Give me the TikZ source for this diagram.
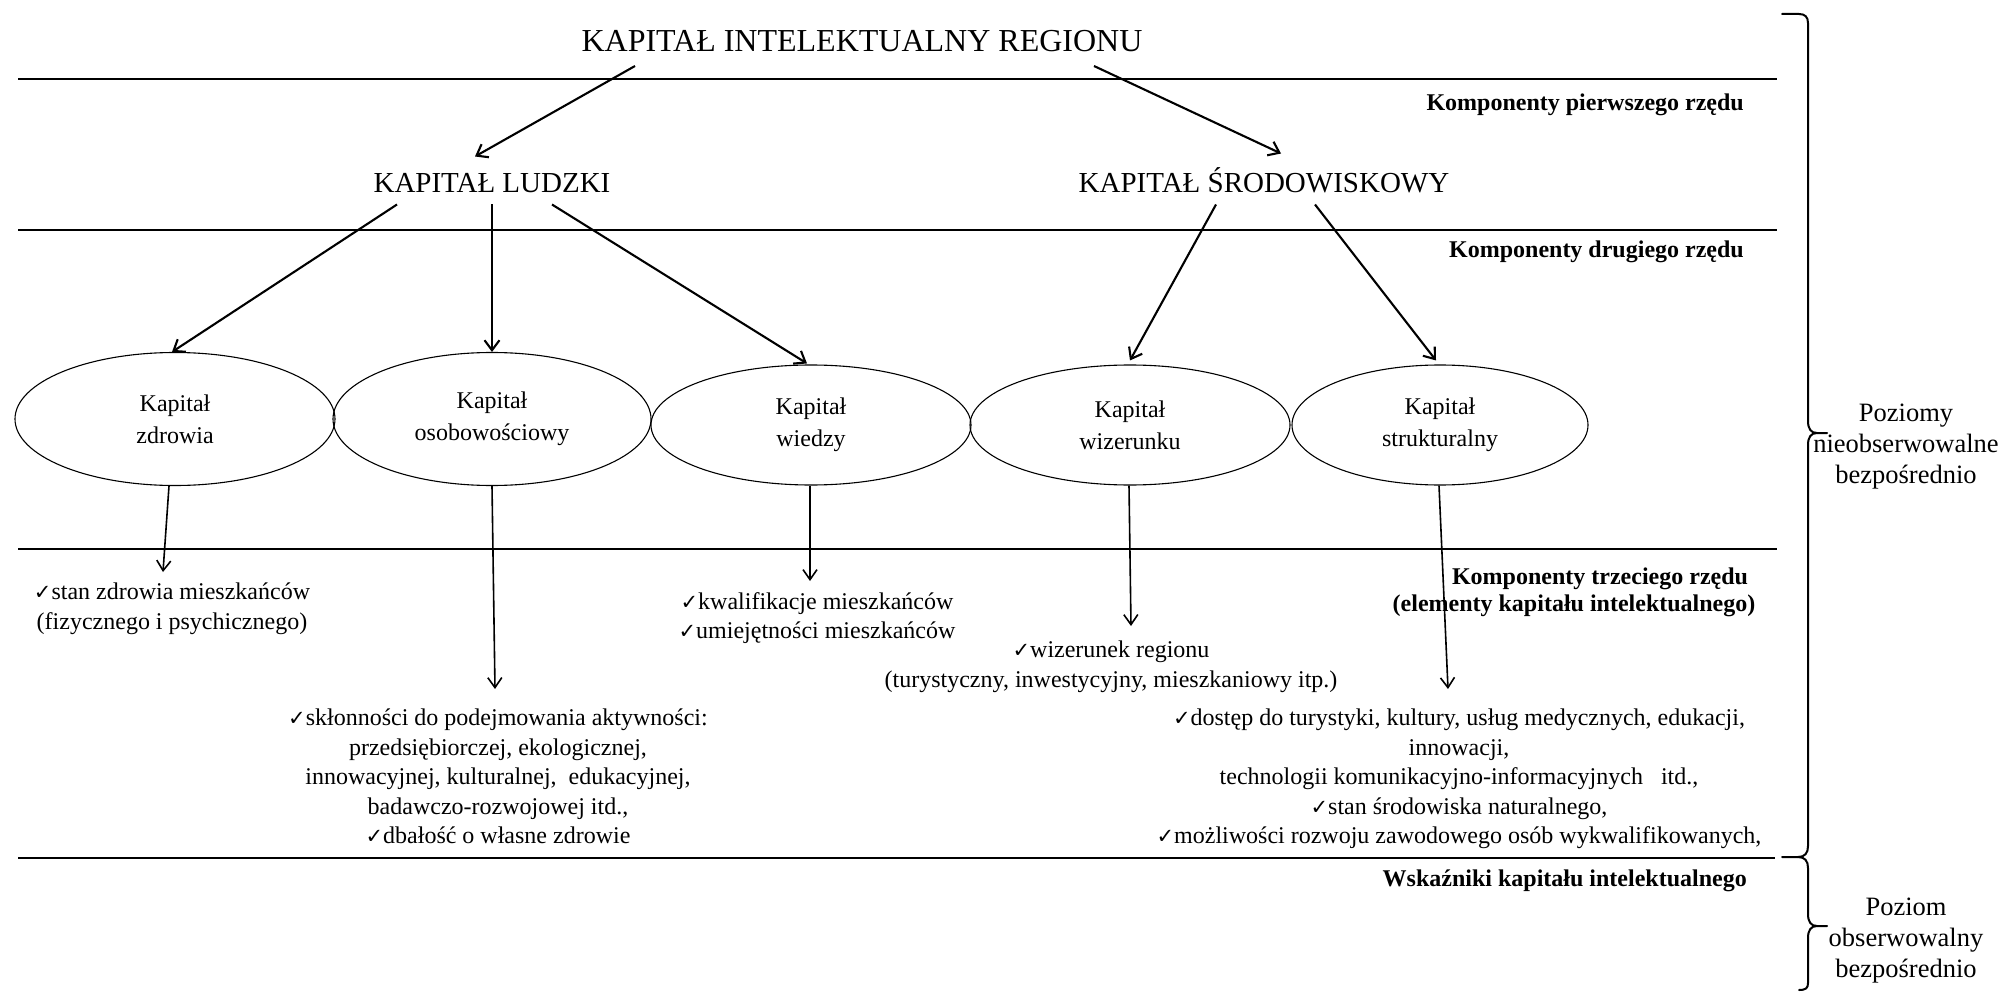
\documentclass[tikz,border=0pt]{standalone}
\usepackage{fontspec}
\setmainfont{Liberation Serif}
\newfontfamily\symf{DejaVu Sans}
\usetikzlibrary{arrows.meta,shapes.geometric,calc}
\newcommand\chk{{\symf\fontsize{21}{21}\selectfont ✓}}
\begin{document}
\begin{tikzpicture}[x=1pt,y=-1pt,
  hline/.style={line width=2.3pt},
  arr/.style={line width=2.1pt,-{Straight Barb[length=10pt,width=15pt,line width=2.1pt]}},
  arrthin/.style={line width=1.6pt,-{Straight Barb[length=10pt,width=14pt,line width=1.6pt]}},
  capt/.style={font=\fontsize{29}{34}\selectfont,inner sep=0,anchor=base},
  oval/.style={ellipse,draw,line width=1.1pt,inner sep=0,align=center,font=\fontsize{24}{32}\selectfont},
  body/.style={align=center,inner sep=0,anchor=north,font=\fontsize{24}{29.5}\selectfont},
  lvl/.style={font=\bfseries\fontsize{24}{27}\selectfont,inner sep=0,align=center},
  side/.style={align=center,font=\fontsize{26.5}{31}\selectfont,inner sep=0},
  brc/.style={line width=2pt,line join=round,line cap=round}]
\useasboundingbox (0,0) rectangle (2002,992);
\fill[white] (0,0) rectangle (2002,992);

% level separators
\draw[hline] (18,79) -- (1777,79);
\draw[hline] (18,230) -- (1777,230);
\draw[hline] (18,549) -- (1777,549);
\draw[hline] (18,858) -- (1775,858);

% level labels
\node[lvl,anchor=east] (l1) at (1744,105) {Komponenty pierwszego rzędu};
\node[lvl,anchor=east] (l2) at (1744,252) {Komponenty drugiego rzędu};
\node[lvl] (l3) at (1574,592) {\hspace*{52pt}Komponenty trzeciego rzędu\\(elementy kapitału intelektualnego)};
\node[lvl,anchor=east] (l4) at (1747,881) {Wskaźniki kapitału intelektualnego};

% main concepts
\node[capt,font=\fontsize{32}{36}\selectfont] (t) at (862,52) {KAPITAŁ INTELEKTUALNY REGIONU};
\node[capt] (hl) at (492,192.5) {KAPITAŁ LUDZKI};
\node[capt] (hs) at (1264,192.5) {KAPITAŁ ŚRODOWISKOWY};

% second-order components
\node[oval,minimum width=320pt,minimum height=133pt] (e1) at (175,419) {Kapitał\\zdrowia};
\node[oval,minimum width=318pt,minimum height=133pt] (e2) at (492,419) {Kapitał\\osobowościowy};
\node[oval,minimum width=320pt,minimum height=120pt] (e3) at (811,425) {Kapitał\\wiedzy};
\node[oval,minimum width=320pt,minimum height=120pt] (e4) at (1130,425) {Kapitał\\wizerunku};
\node[oval,minimum width=296pt,minimum height=120pt] (e5) at (1440,425) {Kapitał\\strukturalny};

% third-order components
\node[body] (d1) at (172,583) {\chk stan zdrowia mieszkańców\\(fizycznego i psychicznego)};
\node[body] (d3) at (817,592) {\chk kwalifikacje mieszkańców\\\chk umiejętności mieszkańców};
\node[body] (d4) at (1111,641) {\chk wizerunek regionu\\(turystyczny, inwestycyjny, mieszkaniowy itp.)};
\node[body] (d2) at (498,709) {\chk skłonności do podejmowania aktywności:\\przedsiębiorczej, ekologicznej,\\innowacyjnej, kulturalnej,\ \ edukacyjnej,\\badawczo-rozwojowej itd.,\\\chk dbałość o własne zdrowie};
\node[body] (d5) at (1459,709) {\chk dostęp do turystyki, kultury, usług medycznych, edukacji,\\innowacji,\\technologii komunikacyjno-informacyjnych\ \ \ itd.,\\\chk stan środowiska naturalnego,\\\chk możliwości rozwoju zawodowego osób wykwalifikowanych,};

% connectors
\draw[arr] ($(t.base)+(-227,14)$) -- ($(hl.base)+(-17,-36)$);
\draw[arr] ($(t.base)+(232,14)$) -- ($(hs.base)+(17,-39)$);
\draw[arr] ($(hl.base)+(-95,12)$) -- ($(e1.north)+(-3,0)$);
\draw[arr] ($(hl.base)+(0,12)$) -- (e2.north);
\draw[arr] ($(hl.base)+(60,12)$) -- ($(e3.north)+(-4,-1)$);
\draw[arr] ($(hs.base)+(-48,12)$) -- ($(e4.north)+(0,-4)$);
\draw[arr] ($(hs.base)+(51,12)$) -- ($(e5.north)+(-4,-4)$);

\draw[arrthin] ($(e1.south)+(-6,0)$) -- ($(d1.north)+(-9,-11)$);
\draw[arrthin] (e2.south) -- ($(d2.north)+(-3,-20)$);
\draw[arrthin] ($(e3.south)+(-1,0)$) -- ($(d3.north)+(-7,-11)$);
\draw[arrthin] ($(e4.south)+(-1,0)$) -- ($(d4.north)+(20,-15)$);
\draw[arrthin] ($(e5.south)+(-1,0)$) -- ($(d5.north)+(-11,-20)$);

% braces for the observation levels
\draw[brc] (1782,14) -- (1799,14) .. controls (1805,14) and (1808,17) .. (1808,23)
  -- (1808,421) .. controls (1808,429) and (1811,433) .. (1817,433) -- (1827,433);
\draw[brc] (1817,433) .. controls (1811,433) and (1808,437) .. (1808,445)
  -- (1808,846) .. controls (1808,853) and (1805,857) .. (1798,857) -- (1782,857);
\draw[brc] (1798,857) .. controls (1805,857) and (1808,861) .. (1808,868)
  -- (1808,914) .. controls (1808,922) and (1811,926) .. (1817,926) -- (1827,926);
\draw[brc] (1817,926) .. controls (1811,926) and (1808,930) .. (1808,938)
  -- (1808,983) .. controls (1808,988) and (1806,990) .. (1799,990);

\node[side] (s1) at (1906,447) {Poziomy\\nieobserwowalne\\bezpośrednio};
\node[side] (s2) at (1906,941) {Poziom\\obserwowalny\\bezpośrednio};
\end{tikzpicture}
\end{document}
